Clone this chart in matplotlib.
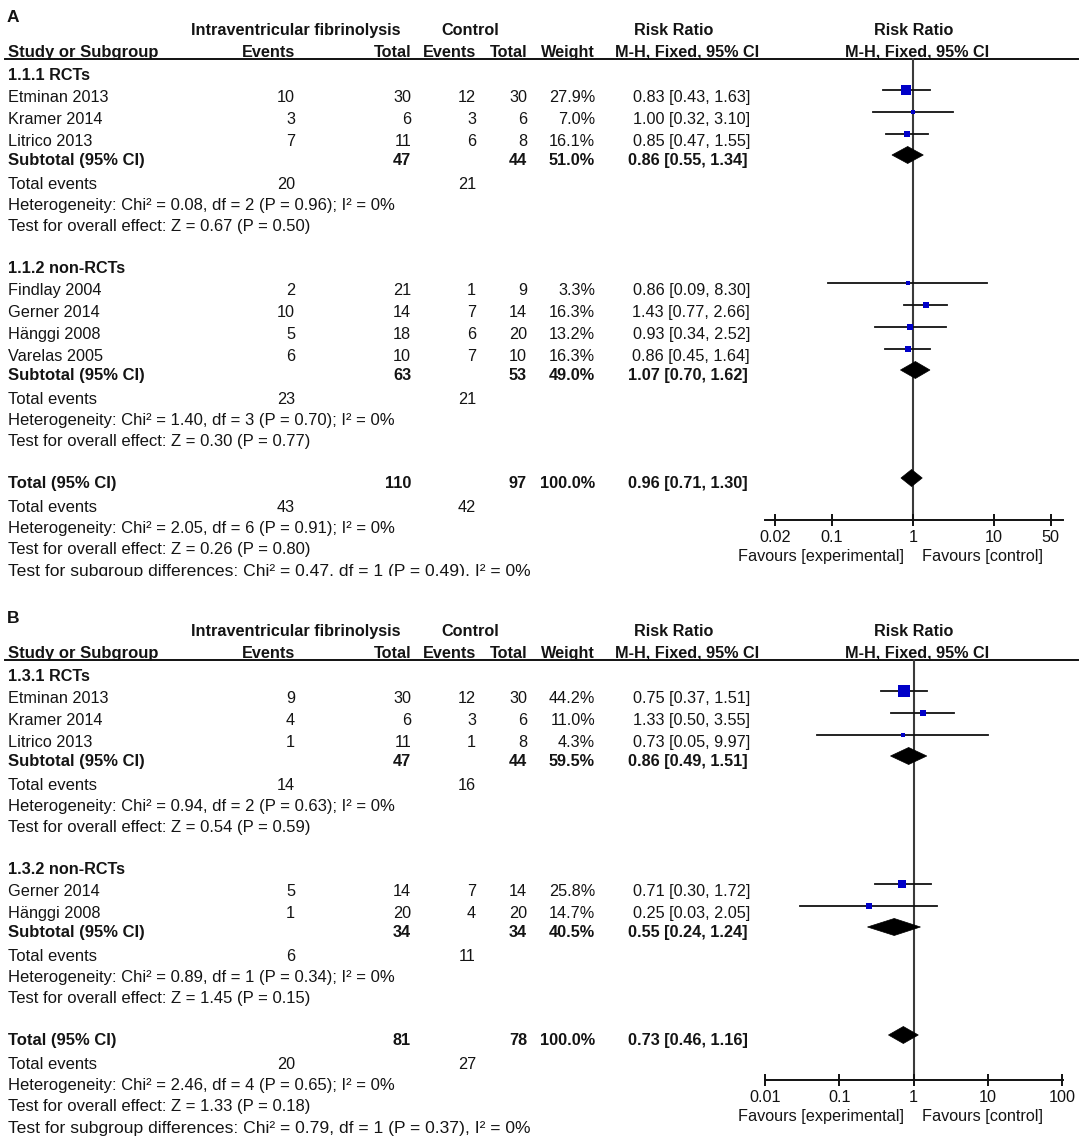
import matplotlib
matplotlib.use("Agg")
import matplotlib.pyplot as plt
from matplotlib.patches import Polygon
from matplotlib.ticker import NullLocator
from matplotlib.transforms import Bbox
import numpy as np

plt.rcParams['font.family'] = ['Liberation Sans', 'DejaVu Sans']

# ---- panel A: mortality ----
A_study = ["Etminan 2013", "Kramer 2014", "Litrico 2013",
           "Findlay 2004", "Gerner 2014", "Hänggi 2008", "Varelas 2005"]
A_group = [0, 0, 0, 1, 1, 1, 1]
A_exp_events = [10, 3, 7, 2, 10, 5, 6]
A_exp_total = [30, 6, 11, 21, 14, 18, 10]
A_ctl_events = [12, 3, 6, 1, 7, 6, 7]
A_ctl_total = [30, 6, 8, 9, 14, 20, 10]
A_weight = [27.9, 7.0, 16.1, 3.3, 16.3, 13.2, 16.3]
A_rr = [0.83, 1.00, 0.85, 0.86, 1.43, 0.93, 0.86]
A_lo = [0.43, 0.32, 0.47, 0.09, 0.77, 0.34, 0.45]
A_hi = [1.63, 3.10, 1.55, 8.30, 2.66, 2.52, 1.64]

A_sub_names = ["1.1.1 RCTs", "1.1.2 non-RCTs"]
A_sub_exp_total = [47, 63]
A_sub_ctl_total = [44, 53]
A_sub_exp_events = [20, 23]
A_sub_ctl_events = [21, 21]
A_sub_weight = [51.0, 49.0]
A_sub_rr = [0.86, 1.07]
A_sub_lo = [0.55, 0.70]
A_sub_hi = [1.34, 1.62]
A_sub_het = ["Heterogeneity: Chi² = 0.08, df = 2 (P = 0.96); I² = 0%",
             "Heterogeneity: Chi² = 1.40, df = 3 (P = 0.70); I² = 0%"]
A_sub_z = ["Test for overall effect: Z = 0.67 (P = 0.50)",
           "Test for overall effect: Z = 0.30 (P = 0.77)"]

A_tot_totals = [110, 97]
A_tot_events = [43, 42]
A_tot_rr = [0.96, 0.71, 1.30]
A_tot_notes = ["Heterogeneity: Chi² = 2.05, df = 6 (P = 0.91); I² = 0%",
               "Test for overall effect: Z = 0.26 (P = 0.80)",
               "Test for subgroup differences: Chi² = 0.47, df = 1 (P = 0.49), I² = 0%"]
A_ticks = [0.02, 0.1, 1, 10, 50]
A_tick_labels = ["0.02", "0.1", "1", "10", "50"]

# ---- panel B ----
B_study = ["Etminan 2013", "Kramer 2014", "Litrico 2013",
           "Gerner 2014", "Hänggi 2008"]
B_group = [0, 0, 0, 1, 1]
B_exp_events = [9, 4, 1, 5, 1]
B_exp_total = [30, 6, 11, 14, 20]
B_ctl_events = [12, 3, 1, 7, 4]
B_ctl_total = [30, 6, 8, 14, 20]
B_weight = [44.2, 11.0, 4.3, 25.8, 14.7]
B_rr = [0.75, 1.33, 0.73, 0.71, 0.25]
B_lo = [0.37, 0.50, 0.05, 0.30, 0.03]
B_hi = [1.51, 3.55, 9.97, 1.72, 2.05]

B_sub_names = ["1.3.1 RCTs", "1.3.2 non-RCTs"]
B_sub_exp_total = [47, 34]
B_sub_ctl_total = [44, 34]
B_sub_exp_events = [14, 6]
B_sub_ctl_events = [16, 11]
B_sub_weight = [59.5, 40.5]
B_sub_rr = [0.86, 0.55]
B_sub_lo = [0.49, 0.24]
B_sub_hi = [1.51, 1.24]
B_sub_het = ["Heterogeneity: Chi² = 0.94, df = 2 (P = 0.63); I² = 0%",
             "Heterogeneity: Chi² = 0.89, df = 1 (P = 0.34); I² = 0%"]
B_sub_z = ["Test for overall effect: Z = 0.54 (P = 0.59)",
           "Test for overall effect: Z = 1.45 (P = 0.15)"]

B_tot_totals = [81, 78]
B_tot_events = [20, 27]
B_tot_rr = [0.73, 0.46, 1.16]
B_tot_notes = ["Heterogeneity: Chi² = 2.46, df = 4 (P = 0.65); I² = 0%",
               "Test for overall effect: Z = 1.33 (P = 0.18)",
               "Test for subgroup differences: Chi² = 0.79, df = 1 (P = 0.37), I² = 0%"]
B_ticks = [0.01, 0.1, 1, 10, 100]
B_tick_labels = ["0.01", "0.1", "1", "10", "100"]


W, H = 1084, 1139
FS = 11.7       # numbers / study names
FS_LAB = 12.0   # left-hand row labels and notes
TXT = '#141414'
SQ = '#0000C8'

fig = plt.figure(figsize=(W / 100, H / 100), dpi=100, facecolor='white')
ax = fig.add_axes([0, 0, 1, 1])
ax.set_xlim(0, W)
ax.set_ylim(H, 0)
ax.axis('off')

# column anchors (pixels)
X_NAME, X_EV1, X_N1, X_EV2, X_N2, X_W, X_CI = 8, 295, 411, 476, 527, 595, 750
X_PLOT0, X_PLOT1, X_ONE = 765, 1063, 913


def txt(x, y, s, ha='left', bold=False, clip_y=None, size=FS):
    # y is the visual centre of the row, text sits on baseline
    t = ax.text(x, y + 5.6, s, ha=ha, va='baseline', fontsize=size,
                fontweight='bold' if bold else 'normal', color=TXT)
    if clip_y is not None:
        t.set_clip_box(Bbox([[0, H - clip_y], [W, H]]))
        t.set_clip_on(True)
    return t


def ci_text(rr, lo, hi):
    return f"{rr:.2f} [{lo:.2f}, {hi:.2f}]"


def draw_panel(letter, top, axis_y, decade, clip_y, d):
    ax.text(7, top - 42 + 6.2, letter, fontsize=12.5, fontweight='bold',
            va='baseline', color=TXT)
    # headers
    r1, r2 = top - 28.5, top - 7
    txt(296, r1, "Intraventricular fibrinolysis", 'center', True)
    txt(470, r1, "Control", 'center', True)
    txt(674, r1, "Risk Ratio", 'center', True)
    txt(914, r1, "Risk Ratio", 'center', True)
    txt(X_NAME, r2, "Study or Subgroup", 'left', True, size=FS_LAB)
    txt(X_EV1, r2, "Events", 'right', True)
    txt(X_N1, r2, "Total", 'right', True)
    txt(X_EV2, r2, "Events", 'right', True)
    txt(X_N2, r2, "Total", 'right', True)
    txt(X_W, r2, "Weight", 'right', True)
    txt(687, r2, "M-H, Fixed, 95% CI", 'center', True)
    txt(917, r2, "M-H, Fixed, 95% CI", 'center', True)
    ax.plot([5, 1078], [top + 0.5, top + 0.5], color='#111111', lw=1.4)

    # forest plot axes, y in the same pixel units as the table
    fx = fig.add_axes([X_PLOT0 / W, 1 - axis_y / H,
                       (X_PLOT1 - X_PLOT0) / W, (axis_y - top) / H])
    fx.set_xscale('log')
    fx.set_xlim(10 ** ((X_PLOT0 - X_ONE) / decade), 10 ** ((X_PLOT1 - X_ONE) / decade))
    fx.set_ylim(axis_y, top)
    fx.patch.set_alpha(0)
    for s in ['top', 'left', 'right']:
        fx.spines[s].set_visible(False)
    fx.spines['bottom'].set_linewidth(1.4)
    fx.spines['bottom'].set_color('#111111')
    fx.set_yticks([])
    fx.set_xticks(d['ticks'])
    fx.set_xticklabels(d['tick_labels'])
    fx.xaxis.set_minor_locator(NullLocator())
    fx.tick_params(axis='x', direction='inout', length=8, width=1.4,
                   pad=3.2, labelsize=FS, colors='#111111')
    fx.axvline(1, color='#3a3a3a', lw=1.5, zorder=1)

    def study_mark(y, rr, lo, hi, w):
        fx.plot([lo, hi], [y - 6, y - 6], color='#111111', lw=1.3, zorder=2)
        fx.plot(rr, y - 6, marker='s', ms=0.72 * 1.72 * np.sqrt(w),
                color=SQ, mew=0, zorder=3)

    def diamond(y, rr, lo, hi):
        yc = y - 4
        fx.add_patch(Polygon([[lo, yc], [rr, yc - 8.5], [hi, yc], [rr, yc + 8.5]],
                             closed=True, facecolor='black', edgecolor='black',
                             lw=0.5, zorder=3))

    y = top + 16
    for g, gname in enumerate(d['sub_names']):
        if g > 0:
            y += 42
        txt(X_NAME, y, gname, bold=True)
        for i in [k for k, gg in enumerate(d['group']) if gg == g]:
            y += 22
            txt(X_NAME, y, d['study'][i])
            txt(X_EV1, y, str(d['exp_events'][i]), 'right')
            txt(X_N1, y, str(d['exp_total'][i]), 'right')
            txt(X_EV2, y, str(d['ctl_events'][i]), 'right')
            txt(X_N2, y, str(d['ctl_total'][i]), 'right')
            txt(X_W, y, f"{d['weight'][i]:.1f}%", 'right')
            txt(X_CI, y, ci_text(d['rr'][i], d['lo'][i], d['hi'][i]), 'right')
            study_mark(y, d['rr'][i], d['lo'][i], d['hi'][i], d['weight'][i])
        y += 19
        txt(X_NAME, y, "Subtotal (95% CI)", bold=True, size=FS_LAB)
        txt(X_N1, y, str(d['sub_exp_total'][g]), 'right', True)
        txt(X_N2, y, str(d['sub_ctl_total'][g]), 'right', True)
        txt(X_W, y, f"{d['sub_weight'][g]:.1f}%", 'right', True)
        txt(X_CI - 2, y, ci_text(d['sub_rr'][g], d['sub_lo'][g], d['sub_hi'][g]), 'right', True)
        diamond(y, d['sub_rr'][g], d['sub_lo'][g], d['sub_hi'][g])
        y += 24
        txt(X_NAME, y, "Total events", size=FS_LAB)
        txt(X_EV1, y, str(d['sub_exp_events'][g]), 'right')
        txt(X_EV2, y, str(d['sub_ctl_events'][g]), 'right')
        y += 21
        txt(X_NAME, y, d['sub_het'][g], size=FS_LAB)
        y += 21
        txt(X_NAME, y, d['sub_z'][g], size=FS_LAB)

    y += 42
    rr, lo, hi = d['tot_rr']
    txt(X_NAME, y, "Total (95% CI)", bold=True, size=FS_LAB)
    txt(X_N1, y, str(d['tot_totals'][0]), 'right', True)
    txt(X_N2, y, str(d['tot_totals'][1]), 'right', True)
    txt(X_W, y, "100.0%", 'right', True)
    txt(X_CI - 2, y, ci_text(rr, lo, hi), 'right', True)
    diamond(y, rr, lo, hi)
    y += 24
    txt(X_NAME, y, "Total events", size=FS_LAB)
    txt(X_EV1, y, str(d['tot_events'][0]), 'right')
    txt(X_EV2, y, str(d['tot_events'][1]), 'right')
    y += 21
    txt(X_NAME, y, d['tot_notes'][0], size=FS_LAB)
    y += 21
    txt(X_NAME, y, d['tot_notes'][1], size=FS_LAB)
    y += 22
    txt(X_NAME, y, d['tot_notes'][2], clip_y=clip_y, size=12.6)

    txt(904, axis_y + 35, "Favours [experimental]", 'right')
    txt(922, axis_y + 35, "Favours [control]", 'left')


panel_a = dict(study=A_study, group=A_group, exp_events=A_exp_events,
               exp_total=A_exp_total, ctl_events=A_ctl_events,
               ctl_total=A_ctl_total, weight=A_weight, rr=A_rr, lo=A_lo, hi=A_hi,
               sub_names=A_sub_names, sub_exp_total=A_sub_exp_total,
               sub_ctl_total=A_sub_ctl_total, sub_exp_events=A_sub_exp_events,
               sub_ctl_events=A_sub_ctl_events, sub_weight=A_sub_weight,
               sub_rr=A_sub_rr, sub_lo=A_sub_lo, sub_hi=A_sub_hi,
               sub_het=A_sub_het, sub_z=A_sub_z, tot_totals=A_tot_totals,
               tot_events=A_tot_events, tot_rr=A_tot_rr, tot_notes=A_tot_notes,
               ticks=A_ticks, tick_labels=A_tick_labels)
panel_b = dict(study=B_study, group=B_group, exp_events=B_exp_events,
               exp_total=B_exp_total, ctl_events=B_ctl_events,
               ctl_total=B_ctl_total, weight=B_weight, rr=B_rr, lo=B_lo, hi=B_hi,
               sub_names=B_sub_names, sub_exp_total=B_sub_exp_total,
               sub_ctl_total=B_sub_ctl_total, sub_exp_events=B_sub_exp_events,
               sub_ctl_events=B_sub_ctl_events, sub_weight=B_sub_weight,
               sub_rr=B_sub_rr, sub_lo=B_sub_lo, sub_hi=B_sub_hi,
               sub_het=B_sub_het, sub_z=B_sub_z, tot_totals=B_tot_totals,
               tot_events=B_tot_events, tot_rr=B_tot_rr, tot_notes=B_tot_notes,
               ticks=B_ticks, tick_labels=B_tick_labels)

draw_panel("A", 58, 520, 81.0, 576, panel_a)
draw_panel("B", 659, 1080, 74.5, 1136, panel_b)

fig.savefig("out.png", dpi=100, facecolor='white')
plt.close(fig)
